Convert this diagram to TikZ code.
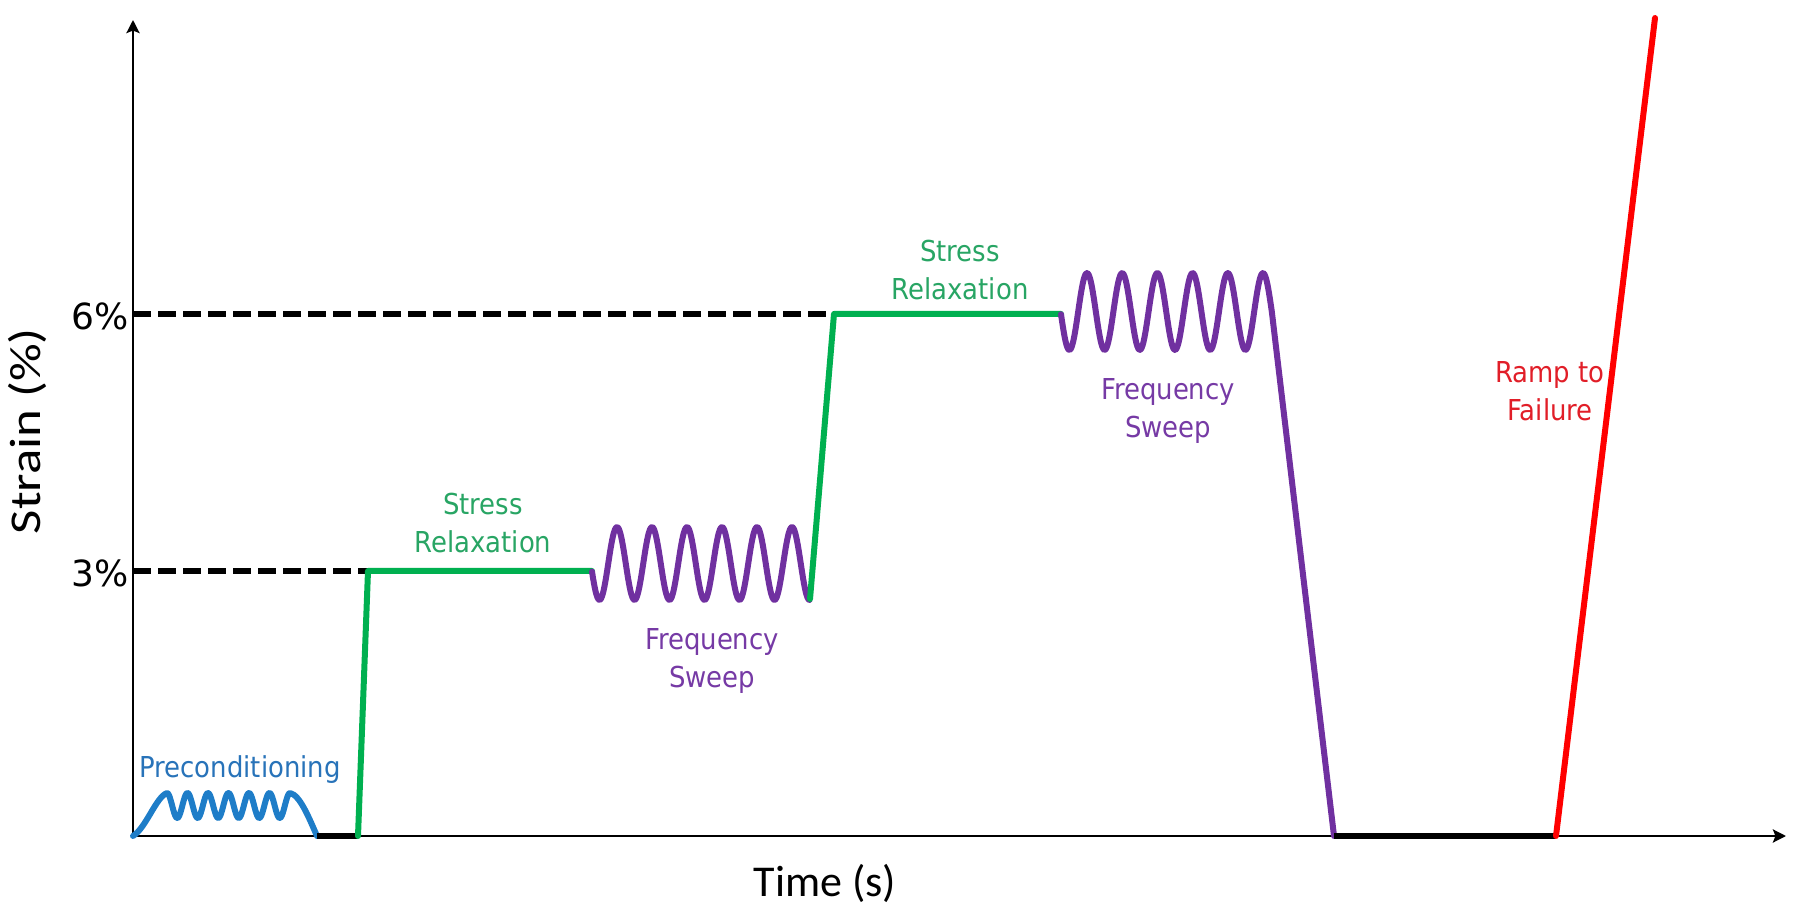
\documentclass[tikz,border=0pt]{standalone}
\usepackage{fontspec}
\setmainfont{DejaVu Sans}
\newfontfamily\labfont[FakeStretch=0.9]{DejaVu Sans}
\newfontfamily\axfont{Carlito}
\newfontfamily\tickfont{DejaVu Sans}
\usetikzlibrary{arrows.meta}
\definecolor{cgreen}{RGB}{0,176,80}
\definecolor{cgreentext}{RGB}{40,165,100}
\definecolor{cpurple}{RGB}{112,48,160}
\definecolor{cpurpletext}{RGB}{118,58,165}
\definecolor{cblue}{RGB}{30,125,200}
\definecolor{cbluetext}{RGB}{40,115,185}
\definecolor{cred}{RGB}{255,0,0}
\definecolor{credtext}{RGB}{225,30,40}
\begin{document}
\begin{tikzpicture}[x=0.5pt,y=-0.5pt,
  axisline/.style={line width=1.4pt,-{Stealth[length=6.5pt,width=6.5pt,inset=1.2pt]}},
  levelline/.style={line width=2.8pt,dash pattern=on 9pt off 3.5pt},
  baseline seg/.style={line width=3pt},
  curve/.style={line width=3pt,line join=round,line cap=round},
  lbl/.style={font=\labfont\fontsize{14.4}{19}\selectfont,align=center,inner sep=0pt},
  ticklbl/.style={font=\tickfont\fontsize{18}{20}\selectfont,inner sep=0pt,anchor=east},
  axlbl/.style={font=\axfont\fontsize{22}{26}\selectfont,inner sep=0pt}]
\useasboundingbox (0,0) rectangle (1800,919);
% key points
\coordinate (O) at (133,836);
\coordinate (Ytop) at (133,20);
\coordinate (Xend) at (1786,836);
\coordinate (L3) at (133,571);
\coordinate (L6) at (133,314);
\coordinate (P1e) at (317,836);
\coordinate (G1b) at (358,836);
\coordinate (G1t) at (368,571);
\coordinate (G1e) at (592,571);
\coordinate (G2b) at (810,599);
\coordinate (G2t) at (834,314);
\coordinate (G2e) at (1061,314);
\coordinate (P2b) at (1334,836);
\coordinate (R0) at (1556,836);
\coordinate (Rtop) at (1655,18);
% dashed levels
\draw[levelline] (L3) -- (G1t);
\draw[levelline] (L6) -- (G2t);
% axes
\draw[axisline] (O) -- (Ytop);
\draw[axisline] ([xshift=-0.7pt]O) -- (Xend);
% preconditioning
\draw[curve,cblue] (O) .. controls (146,828) and (156,797) .. (167,793)
  -- plot[domain=167:290,samples=140,smooth] (\x,{805.5-12.5*cos((\x-167)/20.5*360)})
  .. controls (300,795) and (309,818) .. (P1e);
\draw[baseline seg] (P1e) -- (G1b);
% first step
\draw[curve,cgreen] (G1b) -- (G1t) -- (G1e);
\draw[curve,cpurple] plot[domain=592:809.5,samples=200,smooth] (\x,{563.5-36.5*cos((\x-617)/35*360)});
% second step
\draw[curve,cgreen] (G2b) -- (G2t) -- (G2e);
\draw[curve,cpurple] plot[domain=1061:1271.8,samples=200,smooth] (\x,{311.5-38.5*cos((\x-1087)/35.2*360)}) -- (P2b);
\draw[baseline seg] (P2b) -- (R0);
% ramp
\draw[curve,cred] (R0) -- (Rtop);
% labels
\node[lbl,text=cbluetext] (pre) at (240,770) {Preconditioning};
\node[lbl,text=cgreentext] (sr1) at (483,523) {Stress\\Relaxation};
\node[lbl,text=cpurpletext] (fs1) at (712,661) {Frequency\\Sweep};
\node[lbl,text=cgreentext] (sr2) at (960,270) {Stress\\Relaxation};
\node[lbl,text=cpurpletext] (fs2) at (1168,411) {Frequency\\Sweep};
\node[lbl,text=credtext] (ramp) at (1550,391) {Ramp to\\Failure};
\node[ticklbl] (t6) at (129,316) {6\%};
\node[ticklbl] (t3) at (129,573) {3\%};
\node[axlbl] (xl) at (825,883) {Time (s)};
\node[axlbl,rotate=90] (yl) at (27,431) {\scalebox{1.2}[1]{Strain (\%)}};
\end{tikzpicture}
\end{document}
